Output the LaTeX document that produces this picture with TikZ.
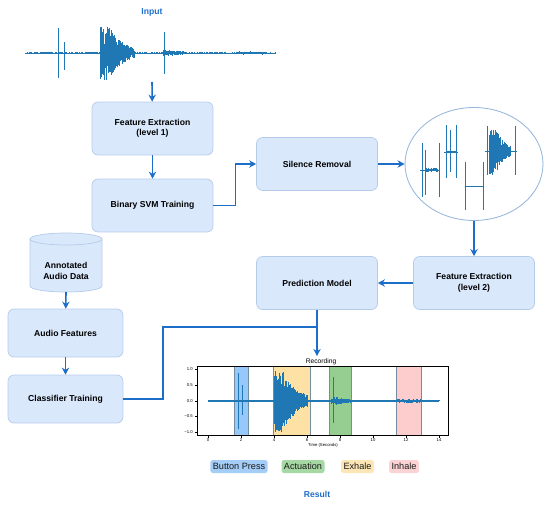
\documentclass[tikz,border=0pt]{standalone}
\usepackage{fontspec}
\setmainfont{Liberation Sans}
\usetikzlibrary{arrows.meta,shapes.geometric}
\definecolor{boxfill}{HTML}{DAE8FC}
\definecolor{boxline}{HTML}{B4CBEA}
\definecolor{ellline}{HTML}{9AB8DC}
\definecolor{arrowblue}{RGB}{28,110,200}
\definecolor{waveblue}{HTML}{1F77B4}
\definecolor{titleblue}{RGB}{30,110,200}
\definecolor{bandblue}{RGB}{150,200,250}
\definecolor{bandorange}{RGB}{253,225,165}
\definecolor{bandgreen}{RGB}{150,205,145}
\definecolor{bandpink}{RGB}{253,205,205}
\definecolor{bandedge}{RGB}{115,140,160}
\definecolor{legblue}{RGB}{164,205,247}
\definecolor{leggreen}{RGB}{166,216,164}
\definecolor{legorange}{RGB}{253,230,181}
\definecolor{legpink}{RGB}{252,211,213}
\newcommand{\wburst}[6]{%
  \foreach \i in {0,...,#5}{%
    \pgfmathsetmacro{\tt}{\i/#5}%
    \pgfmathsetmacro{\xx}{#1+(#2-#1)*\tt}%
    \pgfmathsetmacro{\env}{#4*exp(-#6*max(\tt-0.25,0))}%
    \pgfmathsetmacro{\aa}{\env*(0.3+0.7*rnd)}%
    \pgfmathsetmacro{\bb}{\env*(0.3+0.7*rnd)}%
    \draw[wave] (\xx,#3-\aa) -- (\xx,#3+\bb);
  }}
\begin{document}
\begin{tikzpicture}[x=0.02cm,y=-0.02cm,
  box/.style={draw=boxline, fill=boxfill, rounded corners=0.12cm, line width=0.4pt,
    align=center, font=\fontsize{4.9}{6}\selectfont\bfseries,
    minimum width=2.42cm, minimum height=1.06cm, inner sep=0pt},
  lbox/.style={box, minimum width=2.3cm, minimum height=0.96cm},
  conn/.style={draw=arrowblue, line width=0.9pt, -{Stealth[length=4pt,width=4.2pt]}},
  plainline/.style={draw=arrowblue, line width=0.9pt},
  ttl/.style={text=titleblue, font=\fontsize{4.9}{6}\selectfont\bfseries},
  wave/.style={draw=waveblue, line width=0.25pt},
  spike/.style={draw=waveblue, line width=0.4pt},
  legbox/.style={rounded corners=0.05cm, font=\fontsize{5.2}{6}\selectfont,
    text=black!90, minimum height=0.26cm, inner xsep=1.4pt, inner ysep=0pt},
  ticklab/.style={font=\fontsize{2.4}{3}\selectfont, inner sep=0.5pt}]
\useasboundingbox (0,0) rectangle (550,506);
\pgfmathsetseed{42}

% ---- Input waveform ----
\node[ttl] (input) at (152,12) {Input};
\draw[draw=waveblue, line width=0.5pt] (25,53) -- (275,53);
\wburst{25}{275}{53}{1}{200}{0}
\draw[spike] (58,28) -- (58,78);
\draw[spike] (64,42) -- (64,70);
\draw[spike] (164,32) -- (164,74);
\wburst{100}{134}{53}{27}{110}{2.2}
\wburst{163}{183}{53}{3}{40}{0.5}
\wburst{236}{265}{53}{1.6}{40}{0}
\wburst{40}{52}{53}{1.5}{15}{0}
\wburst{85}{95}{53}{1.5}{12}{0}
\coordinate (wavebot) at (152,82);

% ---- main boxes ----
\node[box] (fe1) at (152.5,128.5) {Feature Extraction\\(level 1)};
\node[box] (svm) at (152.5,205.5) {Binary SVM Training};
\node[box] (sil) at (317,164) {Silence Removal};
\node[draw=ellline, line width=0.5pt, ellipse, inner sep=0pt,
  minimum width=2.76cm, minimum height=2.26cm] (seg) at (474,164) {};
\node[box] (fe2) at (474,283) {Feature Extraction\\(level 2)};
\node[box] (pred) at (317,283) {Prediction Model};

% ---- waveforms inside the ellipse ----
\draw[spike] (422,143) -- (422,197);
\draw[spike] (425,150) -- (425,195);
\draw[spike] (439,143) -- (439,197);
\draw[draw=waveblue, line width=0.5pt] (420,170) -- (440,170);
\wburst{425}{437}{170}{2.5}{20}{0.5}
\draw[spike] (446,125) -- (446,178);
\draw[spike] (450,130) -- (450,172);
\draw[spike] (456,125) -- (456,178);
\draw[draw=waveblue, line width=0.5pt] (444,152) -- (458,152);
\wburst{446}{456}{152}{1.5}{12}{0}
\draw[spike] (465,162) -- (465,210);
\draw[spike] (483,162) -- (483,210);
\draw[draw=waveblue, line width=0.5pt] (465,186) -- (483,186);
\draw[spike] (487,126) -- (487,175);
\draw[spike] (515,126) -- (515,175);
\draw[draw=waveblue, line width=0.5pt] (485,151) -- (517,151);
\wburst{489}{510}{151}{24}{70}{2}

% ---- left column ----
\filldraw[fill=boxfill, draw=boxline, line width=0.4pt]
  (30,239) -- (30,286) arc[start angle=180, end angle=360, x radius=0.72cm, y radius=0.12cm]
  -- (102,239) arc[start angle=0, end angle=180, x radius=0.72cm, y radius=0.12cm] -- cycle;
\draw[draw=boxline, line width=0.4pt]
  (30,239) arc[start angle=180, end angle=360, x radius=0.72cm, y radius=0.12cm];
\node[align=center, font=\fontsize{4.9}{6}\selectfont\bfseries] (data) at (66,271) {Annotated\\Audio Data};
\coordinate (cylbot) at (66,292);
\node[lbox] (af) at (65.5,333) {Audio Features};
\node[lbox] (clf) at (65.5,399) {Classifier Training};

% ---- connectors ----
\draw[conn] (wavebot) -- (fe1);
\draw[conn] (fe1) -- (svm);
\draw[conn] (svm.east) -- ++(22,0) |- (sil.west);
\draw[conn] (sil) -- (seg);
\draw[conn] (seg.south) -- (fe2.north);
\draw[conn] (fe2) -- (pred);
\draw[conn] (cylbot) -- (af);
\draw[conn] (af) -- (clf);
\coordinate (bend) at (163,327);
\coordinate (junc) at (317,327);
\coordinate (plottop) at (317,356);
\draw[plainline] (clf.east) -| (bend) -- (junc);
\draw[conn] (pred.south) -- (plottop);

% ---- result plot ----
\node[font=\fontsize{3.8}{4.5}\selectfont, inner sep=0pt] (rec) at (321,361.5) {Recording};
\filldraw[fill=bandblue, draw=bandedge, line width=0.4pt] (234,366) rectangle (248,435);
\filldraw[fill=bandorange, draw=bandedge, line width=0.4pt] (273,366) rectangle (310,435);
\filldraw[fill=bandgreen, draw=bandedge, line width=0.4pt] (329,366) rectangle (351,435);
\filldraw[fill=bandpink, draw=bandedge, line width=0.4pt] (396,366) rectangle (421,435);
\draw[draw=waveblue, line width=0.6pt] (208,401) -- (439,401);
\wburst{208}{439}{401}{1}{200}{0}
\draw[spike] (238,373) -- (238,429);
\draw[spike] (242,385) -- (242,415);
\wburst{274}{307}{401}{31}{110}{2.2}
\draw[spike] (333,377) -- (333,423);
\wburst{331}{350}{401}{4}{40}{1}
\wburst{397}{420}{401}{2}{40}{0}
\draw[black, line width=0.3pt] (197,366) rectangle (448,435);
\foreach \k/\lab in {0/0,1/2,2/4,3/6,4/8,5/10,6/12,7/14}{
  \draw[black, line width=0.25pt] (208+33*\k,435) -- (208+33*\k,437.5);
  \node[ticklab] at (208+33*\k,440.5) {\lab};
}
\foreach \yy/\lab in {369/1.0,385/0.5,401/0.0,416.5/−0.5,432/−1.0}{
  \draw[black, line width=0.25pt] (197,\yy) -- (194.5,\yy);
  \node[ticklab, anchor=east] at (194,\yy) {\lab};
}
\node[ticklab] (xlab) at (323,445.5) {Time (Seconds)};

% ---- legend ----
\node[legbox, fill=legblue] (lbp) at (239,466.5) {Button Press};
\node[legbox, fill=leggreen] (lact) at (303,466.5) {Actuation};
\node[legbox, fill=legorange] (lexh) at (357.5,466.5) {Exhale};
\node[legbox, fill=legpink] (linh) at (404,466.5) {Inhale};

\node[ttl] (result) at (317,494) {Result};
\end{tikzpicture}
\end{document}
